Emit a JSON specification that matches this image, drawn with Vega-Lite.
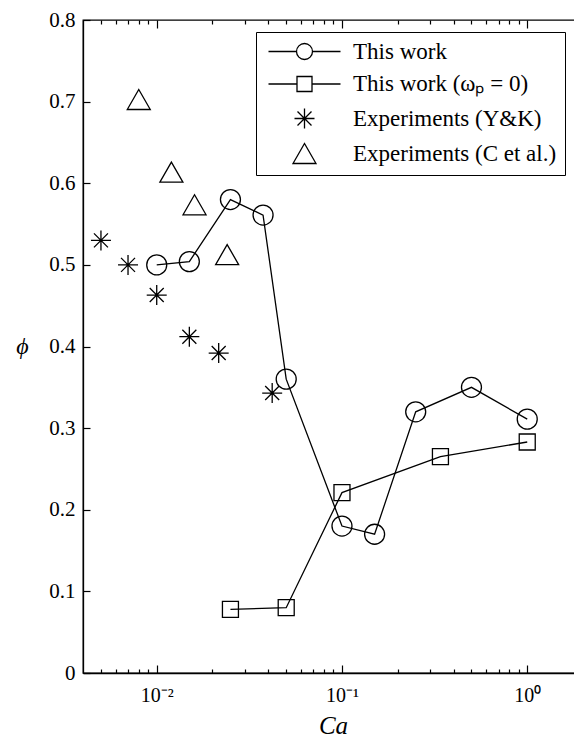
{
  "$schema": "https://vega.github.io/schema/vega-lite/v6.json",
  "width": 500,
  "height": 653,
  "autosize": "none",
  "padding": {"left": 83, "top": 20, "right": 0, "bottom": 67},
  "background": "white",
  "config": {
    "font": "Liberation Serif, Times New Roman, serif",
    "view": {"stroke": "black", "strokeWidth": 1.3},
    "axis": {"grid": false, "domainColor": "black", "domainWidth": 1.3, "tickColor": "black", "tickWidth": 1.2, "labelColor": "black", "labelFont": "Liberation Serif, Times New Roman, serif", "labelFontSize": 20, "titleColor": "black", "titleFont": "Liberation Serif, Times New Roman, serif"},
    "legend": {"labelFont": "Liberation Serif, Times New Roman, serif"}
  },
  "data": {
    "values": [
      {"series": "This work", "ca": 0.01, "phi": 0.500},
      {"series": "This work", "ca": 0.015, "phi": 0.504},
      {"series": "This work", "ca": 0.025, "phi": 0.580},
      {"series": "This work", "ca": 0.0375, "phi": 0.561},
      {"series": "This work", "ca": 0.05, "phi": 0.360},
      {"series": "This work", "ca": 0.1, "phi": 0.180},
      {"series": "This work", "ca": 0.15, "phi": 0.170},
      {"series": "This work", "ca": 0.25, "phi": 0.320},
      {"series": "This work", "ca": 0.5, "phi": 0.350},
      {"series": "This work", "ca": 1.0, "phi": 0.311},
      {"series": "This work (ωₚ = 0)", "ca": 0.025, "phi": 0.078},
      {"series": "This work (ωₚ = 0)", "ca": 0.05, "phi": 0.080},
      {"series": "This work (ωₚ = 0)", "ca": 0.1, "phi": 0.221},
      {"series": "This work (ωₚ = 0)", "ca": 0.34, "phi": 0.265},
      {"series": "This work (ωₚ = 0)", "ca": 1.0, "phi": 0.283},
      {"series": "Experiments (Y&K)", "ca": 0.005, "phi": 0.530},
      {"series": "Experiments (Y&K)", "ca": 0.007, "phi": 0.500},
      {"series": "Experiments (Y&K)", "ca": 0.01, "phi": 0.463},
      {"series": "Experiments (Y&K)", "ca": 0.015, "phi": 0.412},
      {"series": "Experiments (Y&K)", "ca": 0.0216, "phi": 0.392},
      {"series": "Experiments (Y&K)", "ca": 0.042, "phi": 0.343},
      {"series": "Experiments (C et al.)", "ca": 0.008, "phi": 0.702},
      {"series": "Experiments (C et al.)", "ca": 0.012, "phi": 0.613},
      {"series": "Experiments (C et al.)", "ca": 0.016, "phi": 0.573},
      {"series": "Experiments (C et al.)", "ca": 0.024, "phi": 0.512}
    ]
  },
  "layer": [
    {
      "transform": [{"filter": "datum.series == 'This work' || datum.series == 'This work (ωₚ = 0)'"}],
      "mark": {"type": "line", "stroke": "black", "strokeWidth": 1.3},
      "encoding": {
        "x": {"field": "ca", "type": "quantitative", "scale": {"type": "log", "domain": [0.004, 2], "nice": false},
          "axis": {"orient": "bottom", "title": "Ca", "titleFontStyle": "italic", "titleFontSize": 25, "titleFontWeight": "normal", "titlePadding": 4,
            "values": [0.005, 0.006, 0.007, 0.008, 0.009, 0.01, 0.02, 0.03, 0.04, 0.05, 0.06, 0.07, 0.08, 0.09, 0.1, 0.2, 0.3, 0.4, 0.5, 0.6, 0.7, 0.8, 0.9, 1],
            "tickSize": {"condition": {"test": "datum.value == 0.01 || datum.value == 0.1 || datum.value == 1", "value": -8}, "value": -4},
            "labelExpr": "datum.value == 0.01 ? '10⁻²' : datum.value == 0.1 ? '10⁻¹' : datum.value == 1 ? '10⁰' : ''",
            "labelFontSize": 20, "labelOverlap": false, "labelFlush": false, "labelPadding": 20}},
        "y": {"field": "phi", "type": "quantitative", "scale": {"domain": [0, 0.8], "nice": false},
          "axis": {"title": "ϕ", "titleAngle": 0, "titleFontStyle": "italic", "titleFontSize": 24, "titleFontWeight": "normal", "titleX": -61, "titleY": 326, "titleAlign": "center", "titleBaseline": "middle",
            "values": [0, 0.1, 0.2, 0.3, 0.4, 0.5, 0.6, 0.7, 0.8], "tickSize": -7, "labelPadding": 15, "labelFontSize": 21,
            "labelExpr": "datum.value == 0 ? '0' : format(datum.value, '.1f')"}},
        "detail": {"field": "series"}
      }
    },
    {
      "mark": {"type": "point", "filled": false, "stroke": "black", "strokeWidth": 1.3, "size": 400, "opacity": 1},
      "encoding": {
        "x": {"field": "ca", "type": "quantitative", "scale": {"type": "log", "domain": [0.004, 2], "nice": false},
          "axis": {"orient": "top", "title": null, "labels": false, "domain": false,
            "values": [0.005, 0.006, 0.007, 0.008, 0.009, 0.01, 0.02, 0.03, 0.04, 0.05, 0.06, 0.07, 0.08, 0.09, 0.1, 0.2, 0.3, 0.4, 0.5, 0.6, 0.7, 0.8, 0.9, 1],
            "tickSize": {"condition": {"test": "datum.value == 0.01 || datum.value == 0.1 || datum.value == 1", "value": -8}, "value": -4}}},
        "y": {"field": "phi", "type": "quantitative", "scale": {"domain": [0, 0.8], "nice": false}},
        "shape": {"field": "series", "type": "nominal", "legend": null,
          "scale": {"domain": ["This work", "This work (ωₚ = 0)", "Experiments (Y&K)", "Experiments (C et al.)"],
            "range": ["M1,0A1,1 0 1,1 -1,0A1,1 0 1,1 1,0Z", "M-0.8,-0.8L0.8,-0.8L0.8,0.8L-0.8,0.8Z", "M0,-1L0,1M-1,0L1,0M-0.7,-0.7L0.7,0.7M-0.7,0.7L0.7,-0.7", "M0,-1.05L1.15,0.95L-1.15,0.95Z"]}}
      }
    },
    {
      "mark": {"type": "point", "filled": false, "stroke": "black", "strokeWidth": 1.3, "size": 400, "opacity": 0},
      "encoding": {
        "x": {"field": "ca", "type": "quantitative", "scale": {"type": "log", "domain": [0.004, 2], "nice": false}, "axis": null},
        "y": {"field": "phi", "type": "quantitative", "scale": {"domain": [0, 0.8], "nice": false}},
        "shape": {"field": "series", "type": "nominal",
          "scale": {"domain": ["This work", "This work (ωₚ = 0)", "Experiments (Y&K)", "Experiments (C et al.)"],
            "range": ["M-3.6,0L-0.8,0M0.8,0L3.6,0M0.8,0A0.8,0.8 0 1,1 -0.8,0A0.8,0.8 0 1,1 0.8,0Z", "M-3.6,0L-0.75,0M0.75,0L3.6,0M-0.75,-0.75L0.75,-0.75L0.75,0.75L-0.75,0.75Z", "M0,-1L0,1M-1,0L1,0M-0.7,-0.7L0.7,0.7M-0.7,0.7L0.7,-0.7", "M0,-1.05L1.15,0.95L-1.15,0.95Z"]},
          "legend": {"title": null, "orient": "none", "legendX": 173, "legendY": 12, "symbolOpacity": 1, "symbolSize": 400, "symbolStrokeWidth": 1.3, "symbolStrokeColor": "black", "symbolFillColor": "transparent",
            "labelFont": "Liberation Serif, Times New Roman, serif", "labelFontSize": 23, "labelColor": "black", "labelLimit": 400, "padding": 8, "symbolOffset": 29, "labelOffset": 37, "rowPadding": 8.5,
            "strokeColor": "black", "fillColor": "white"}}
      }
    }
  ],
  "resolve": {"scale": {"shape": "independent"}, "axis": {"x": "independent"}}
}
